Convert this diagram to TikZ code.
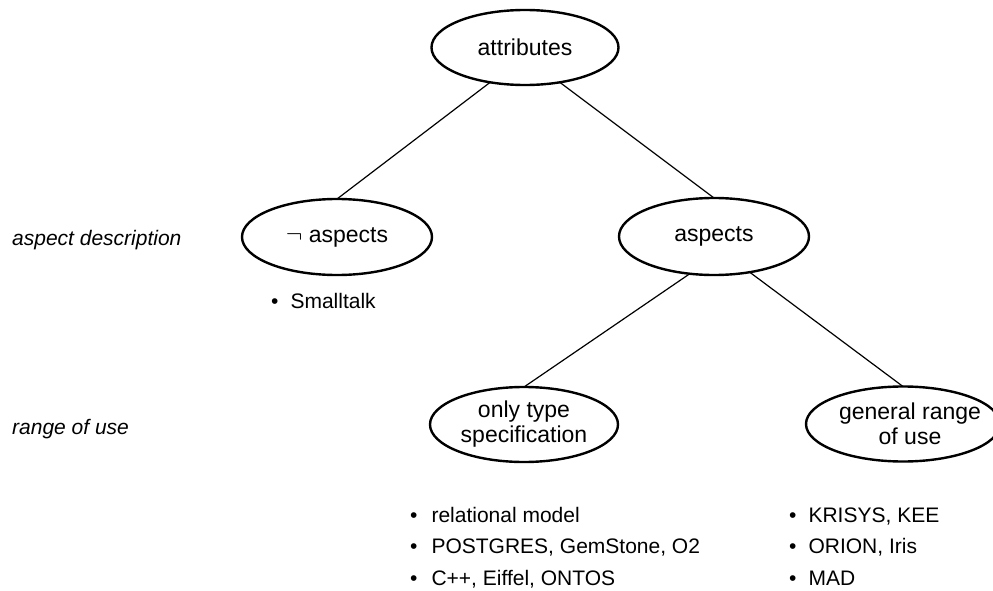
\documentclass[tikz,border=0pt]{standalone}
\usepackage{fontspec}
\setmainfont{Liberation Sans}
\usetikzlibrary{shapes.geometric}

\tikzset{
  concept/.style={draw, ellipse, line width=2.4pt, inner sep=0pt, outer sep=0pt,
    minimum width=190pt, minimum height=76pt, align=center,
    font=\fontsize{23}{25}\selectfont},
  edge/.style={line width=1.2pt},
  item/.style={anchor=base west, inner sep=0pt, font=\fontsize{21}{25}\selectfont},
  levellabel/.style={anchor=base west, inner sep=0pt, font=\fontsize{21}{25}\selectfont\itshape},
}

\begin{document}
\begin{tikzpicture}[x=1pt, y=-1pt]
  \useasboundingbox (0,0) rectangle (993,591);

  % concept hierarchy
  \node[concept, minimum width=187pt, minimum height=75pt] (attr) at (525,47.5) {attributes};
  \node[concept] (neg) at (337,237) {$\neg$ aspects};
  \node[concept, minimum height=77pt] (asp) at (714,236.5) {aspects};
  \node[concept, minimum width=188pt, minimum height=75pt] (only) at (524,424.5) {only type\\specification};
  \node[concept, minimum width=194pt, minimum height=75pt] (gen) at (903,424) {};
  \node[align=center, inner sep=0pt, font=\fontsize{23}{25}\selectfont] (gentext) at (910,424) {general range\\of use};

  % tree edges
  \draw[edge] (attr.225) -- (neg.north);
  \draw[edge] (attr.-45) -- (asp.north);
  \draw[edge] (asp.237) -- (only.north);
  \draw[edge] (asp.-45) -- (gen.north);

  % level labels
  \node[levellabel] (lvl1) at (12,245) {aspect description};
  \node[levellabel] (lvl2) at (12,434) {range of use};

  % example systems
  \node[item] (s1) at (271,308) {•\hspace{12pt}Smalltalk};

  \node[item] (o1) at (410,522) {•\hspace{14pt}relational model};
  \node[item] (o2) at (410,553.5) {•\hspace{14pt}POSTGRES, GemStone, O2};
  \node[item] (o3) at (410,585) {•\hspace{14pt}C++, Eiffel, ONTOS};

  \node[item] (g1) at (789,522) {•\hspace{12pt}KRISYS, KEE};
  \node[item] (g2) at (789,553.5) {•\hspace{12pt}ORION, Iris};
  \node[item] (g3) at (789,585) {•\hspace{12pt}MAD};
\end{tikzpicture}
\end{document}
